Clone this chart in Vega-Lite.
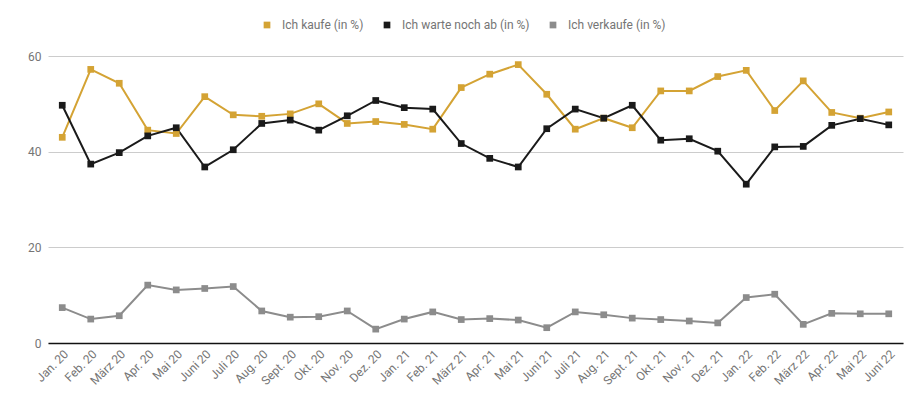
{
  "$schema": "https://vega.github.io/schema/vega-lite/v6.json",
  "width": 855,
  "height": 287,
  "autosize": "none",
  "padding": {"left": 48, "top": 56, "right": 21, "bottom": 63},
  "background": "white",
  "config": {
    "font": "Roboto",
    "view": {"stroke": null}
  },
  "datasets": {
    "rows": [
      {"m":"Jan. 20","s":"Ich kaufe (in %)","v":43.0},
      {"m":"Feb. 20","s":"Ich kaufe (in %)","v":57.2},
      {"m":"März 20","s":"Ich kaufe (in %)","v":54.3},
      {"m":"Apr. 20","s":"Ich kaufe (in %)","v":44.5},
      {"m":"Mai 20","s":"Ich kaufe (in %)","v":43.8},
      {"m":"Juni 20","s":"Ich kaufe (in %)","v":51.5},
      {"m":"Juli 20","s":"Ich kaufe (in %)","v":47.7},
      {"m":"Aug. 20","s":"Ich kaufe (in %)","v":47.4},
      {"m":"Sept. 20","s":"Ich kaufe (in %)","v":47.9},
      {"m":"Okt. 20","s":"Ich kaufe (in %)","v":50.0},
      {"m":"Nov. 20","s":"Ich kaufe (in %)","v":45.9},
      {"m":"Dez. 20","s":"Ich kaufe (in %)","v":46.3},
      {"m":"Jan. 21","s":"Ich kaufe (in %)","v":45.7},
      {"m":"Feb. 21","s":"Ich kaufe (in %)","v":44.7},
      {"m":"März 21","s":"Ich kaufe (in %)","v":53.4},
      {"m":"Apr. 21","s":"Ich kaufe (in %)","v":56.2},
      {"m":"Mai 21","s":"Ich kaufe (in %)","v":58.2},
      {"m":"Juni 21","s":"Ich kaufe (in %)","v":52.0},
      {"m":"Juli 21","s":"Ich kaufe (in %)","v":44.7},
      {"m":"Aug. 21","s":"Ich kaufe (in %)","v":47.0},
      {"m":"Sept. 21","s":"Ich kaufe (in %)","v":45.0},
      {"m":"Okt. 21","s":"Ich kaufe (in %)","v":52.7},
      {"m":"Nov. 21","s":"Ich kaufe (in %)","v":52.7},
      {"m":"Dez. 21","s":"Ich kaufe (in %)","v":55.7},
      {"m":"Jan. 22","s":"Ich kaufe (in %)","v":57.0},
      {"m":"Feb. 22","s":"Ich kaufe (in %)","v":48.6},
      {"m":"März 22","s":"Ich kaufe (in %)","v":54.8},
      {"m":"Apr. 22","s":"Ich kaufe (in %)","v":48.2},
      {"m":"Mai 22","s":"Ich kaufe (in %)","v":47.0},
      {"m":"Juni 22","s":"Ich kaufe (in %)","v":48.3},

      {"m":"Jan. 20","s":"Ich warte noch ab (in %)","v":49.7},
      {"m":"Feb. 20","s":"Ich warte noch ab (in %)","v":37.4},
      {"m":"März 20","s":"Ich warte noch ab (in %)","v":39.8},
      {"m":"Apr. 20","s":"Ich warte noch ab (in %)","v":43.3},
      {"m":"Mai 20","s":"Ich warte noch ab (in %)","v":45.0},
      {"m":"Juni 20","s":"Ich warte noch ab (in %)","v":36.8},
      {"m":"Juli 20","s":"Ich warte noch ab (in %)","v":40.4},
      {"m":"Aug. 20","s":"Ich warte noch ab (in %)","v":45.9},
      {"m":"Sept. 20","s":"Ich warte noch ab (in %)","v":46.6},
      {"m":"Okt. 20","s":"Ich warte noch ab (in %)","v":44.5},
      {"m":"Nov. 20","s":"Ich warte noch ab (in %)","v":47.5},
      {"m":"Dez. 20","s":"Ich warte noch ab (in %)","v":50.7},
      {"m":"Jan. 21","s":"Ich warte noch ab (in %)","v":49.2},
      {"m":"Feb. 21","s":"Ich warte noch ab (in %)","v":48.9},
      {"m":"März 21","s":"Ich warte noch ab (in %)","v":41.7},
      {"m":"Apr. 21","s":"Ich warte noch ab (in %)","v":38.6},
      {"m":"Mai 21","s":"Ich warte noch ab (in %)","v":36.8},
      {"m":"Juni 21","s":"Ich warte noch ab (in %)","v":44.8},
      {"m":"Juli 21","s":"Ich warte noch ab (in %)","v":48.9},
      {"m":"Aug. 21","s":"Ich warte noch ab (in %)","v":47.0},
      {"m":"Sept. 21","s":"Ich warte noch ab (in %)","v":49.7},
      {"m":"Okt. 21","s":"Ich warte noch ab (in %)","v":42.4},
      {"m":"Nov. 21","s":"Ich warte noch ab (in %)","v":42.7},
      {"m":"Dez. 21","s":"Ich warte noch ab (in %)","v":40.1},
      {"m":"Jan. 22","s":"Ich warte noch ab (in %)","v":33.2},
      {"m":"Feb. 22","s":"Ich warte noch ab (in %)","v":41.0},
      {"m":"März 22","s":"Ich warte noch ab (in %)","v":41.1},
      {"m":"Apr. 22","s":"Ich warte noch ab (in %)","v":45.5},
      {"m":"Mai 22","s":"Ich warte noch ab (in %)","v":46.9},
      {"m":"Juni 22","s":"Ich warte noch ab (in %)","v":45.6},

      {"m":"Jan. 20","s":"Ich verkaufe (in %)","v":7.4},
      {"m":"Feb. 20","s":"Ich verkaufe (in %)","v":5.0},
      {"m":"März 20","s":"Ich verkaufe (in %)","v":5.7},
      {"m":"Apr. 20","s":"Ich verkaufe (in %)","v":12.1},
      {"m":"Mai 20","s":"Ich verkaufe (in %)","v":11.1},
      {"m":"Juni 20","s":"Ich verkaufe (in %)","v":11.4},
      {"m":"Juli 20","s":"Ich verkaufe (in %)","v":11.8},
      {"m":"Aug. 20","s":"Ich verkaufe (in %)","v":6.7},
      {"m":"Sept. 20","s":"Ich verkaufe (in %)","v":5.4},
      {"m":"Okt. 20","s":"Ich verkaufe (in %)","v":5.5},
      {"m":"Nov. 20","s":"Ich verkaufe (in %)","v":6.7},
      {"m":"Dez. 20","s":"Ich verkaufe (in %)","v":2.9},
      {"m":"Jan. 21","s":"Ich verkaufe (in %)","v":5.0},
      {"m":"Feb. 21","s":"Ich verkaufe (in %)","v":6.5},
      {"m":"März 21","s":"Ich verkaufe (in %)","v":4.9},
      {"m":"Apr. 21","s":"Ich verkaufe (in %)","v":5.1},
      {"m":"Mai 21","s":"Ich verkaufe (in %)","v":4.8},
      {"m":"Juni 21","s":"Ich verkaufe (in %)","v":3.2},
      {"m":"Juli 21","s":"Ich verkaufe (in %)","v":6.5},
      {"m":"Aug. 21","s":"Ich verkaufe (in %)","v":5.9},
      {"m":"Sept. 21","s":"Ich verkaufe (in %)","v":5.2},
      {"m":"Okt. 21","s":"Ich verkaufe (in %)","v":4.9},
      {"m":"Nov. 21","s":"Ich verkaufe (in %)","v":4.6},
      {"m":"Dez. 21","s":"Ich verkaufe (in %)","v":4.2},
      {"m":"Jan. 22","s":"Ich verkaufe (in %)","v":9.5},
      {"m":"Feb. 22","s":"Ich verkaufe (in %)","v":10.2},
      {"m":"März 22","s":"Ich verkaufe (in %)","v":3.9},
      {"m":"Apr. 22","s":"Ich verkaufe (in %)","v":6.2},
      {"m":"Mai 22","s":"Ich verkaufe (in %)","v":6.1},
      {"m":"Juni 22","s":"Ich verkaufe (in %)","v":6.1}
    ]
  },
  "data": {"name": "rows"},
  "mark": {
    "type": "line",
    "strokeWidth": 2,
    "point": {"filled": true, "shape": "square", "size": 45, "opacity": 1}
  },
  "encoding": {
    "x": {
      "field": "m",
      "type": "ordinal",
      "sort": null,
      "scale": {"type": "point", "padding": 0.5},
      "axis": {
        "title": null,
        "labelAngle": -45,
        "labelFontSize": 12,
        "labelColor": "#757575",
        "labelPadding": 5,
        "ticks": false,
        "domain": true,
        "domainColor": "#111111",
        "domainWidth": 1.5,
        "grid": false
      }
    },
    "y": {
      "field": "v",
      "type": "quantitative",
      "scale": {"domain": [0, 60], "nice": false},
      "axis": {
        "title": null,
        "values": [0, 20, 40, 60],
        "labelFontSize": 12,
        "labelColor": "#757575",
        "labelPadding": 7,
        "ticks": false,
        "domain": false,
        "grid": true,
        "gridColor": "#cccccc",
        "gridWidth": 1
      }
    },
    "color": {
      "field": "s",
      "type": "nominal",
      "sort": null,
      "scale": {
        "domain": ["Ich kaufe (in %)", "Ich warte noch ab (in %)", "Ich verkaufe (in %)"],
        "range": ["#D4A334", "#1a1a1a", "#8c8c8c"]
      },
      "legend": {
        "title": null,
        "orient": "none",
        "direction": "horizontal",
        "legendX": 213,
        "legendY": -37,
        "symbolType": "square",
        "symbolSize": 45,
        "symbolStrokeWidth": 0,
        "labelFontSize": 12,
        "labelColor": "#757575",
        "labelOffset": 9,
        "columnPadding": 17
      }
    }
  }
}
